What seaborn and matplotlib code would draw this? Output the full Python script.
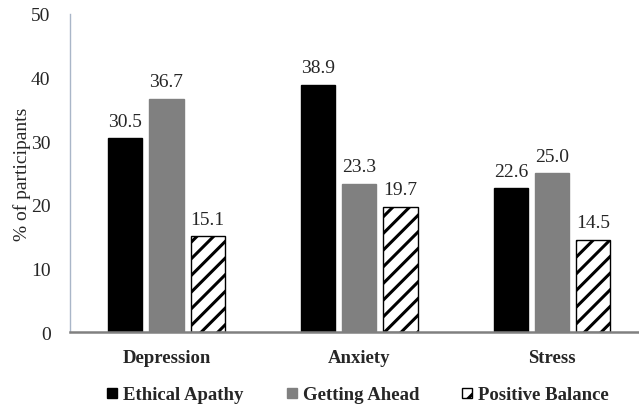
import matplotlib
matplotlib.use("Agg")
import matplotlib.pyplot as plt
import seaborn as sns
import pandas as pd

# Percentage of participants per profile for each outcome
categories = ["Depression", "Anxiety", "Stress"]
profiles = ["Ethical Apathy", "Getting Ahead", "Positive Balance"]
ethical_apathy = [30.5, 38.9, 22.6]
getting_ahead = [36.7, 23.3, 25.0]
positive_balance = [15.1, 19.7, 14.5]
y_ticks = [0, 10, 20, 30, 40, 50]

df = pd.DataFrame({
    "outcome": categories * 3,
    "profile": [profiles[0]] * 3 + [profiles[1]] * 3 + [profiles[2]] * 3,
    "value": ethical_apathy + getting_ahead + positive_balance,
})

sns.set_style("white")
plt.rcParams["font.family"] = ["Liberation Serif", "DejaVu Serif"]
plt.rcParams["hatch.linewidth"] = 2.2

fig = plt.figure(figsize=(6.39, 4.10), dpi=100)
ax = fig.add_axes([70 / 639, 1 - 333 / 410, 1 - 70 / 639, 318 / 410])

palette = {profiles[0]: "#000000", profiles[1]: "#808080", profiles[2]: "#ffffff"}
sns.barplot(data=df, x="outcome", y="value", hue="profile", order=categories,
            hue_order=profiles, palette=palette, width=0.64, gap=0.17,
            saturation=1, ax=ax, legend=False)

edge_colors = ["#000000", "#808080", "#000000"]
for i, cont in enumerate(ax.containers):
    for p in cont.patches:
        p.set_edgecolor(edge_colors[i])
        p.set_linewidth(1.0)
        if i == 2:
            p.set_hatch("//")
    ax.bar_label(cont, fmt="%.1f", padding=6, fontsize=14)

ax.set_ylim(0, 50)
ax.set_yticks(y_ticks)
ax.set_xlim(-0.5, 2.45)
ax.tick_params(axis="y", labelsize=14, length=0, pad=14)
ax.tick_params(axis="x", length=0, pad=12)
for lbl in ax.get_xticklabels():
    lbl.set_fontweight("bold")
    lbl.set_fontsize(13.5)
ax.set_xlabel("")
ax.set_ylabel("% of participants", fontsize=14, labelpad=0)

for side in ["top", "right"]:
    ax.spines[side].set_visible(False)
ax.spines["left"].set_color("#a9b6c8")
ax.spines["left"].set_linewidth(1.0)
ax.spines["bottom"].set_color("#808080")
ax.spines["bottom"].set_linewidth(1.8)

leg = ax.legend(handles=list(ax.containers), labels=profiles, loc="center",
                ncol=3, frameon=False,
                handlelength=0.55, handleheight=0.5, handletextpad=0.3,
                columnspacing=2.3, prop={"weight": "bold", "size": 13.5})
leg.set_bbox_to_anchor((358 / 639, 1 - 396 / 410), transform=fig.transFigure)

fig.savefig("out.png", dpi=100)
